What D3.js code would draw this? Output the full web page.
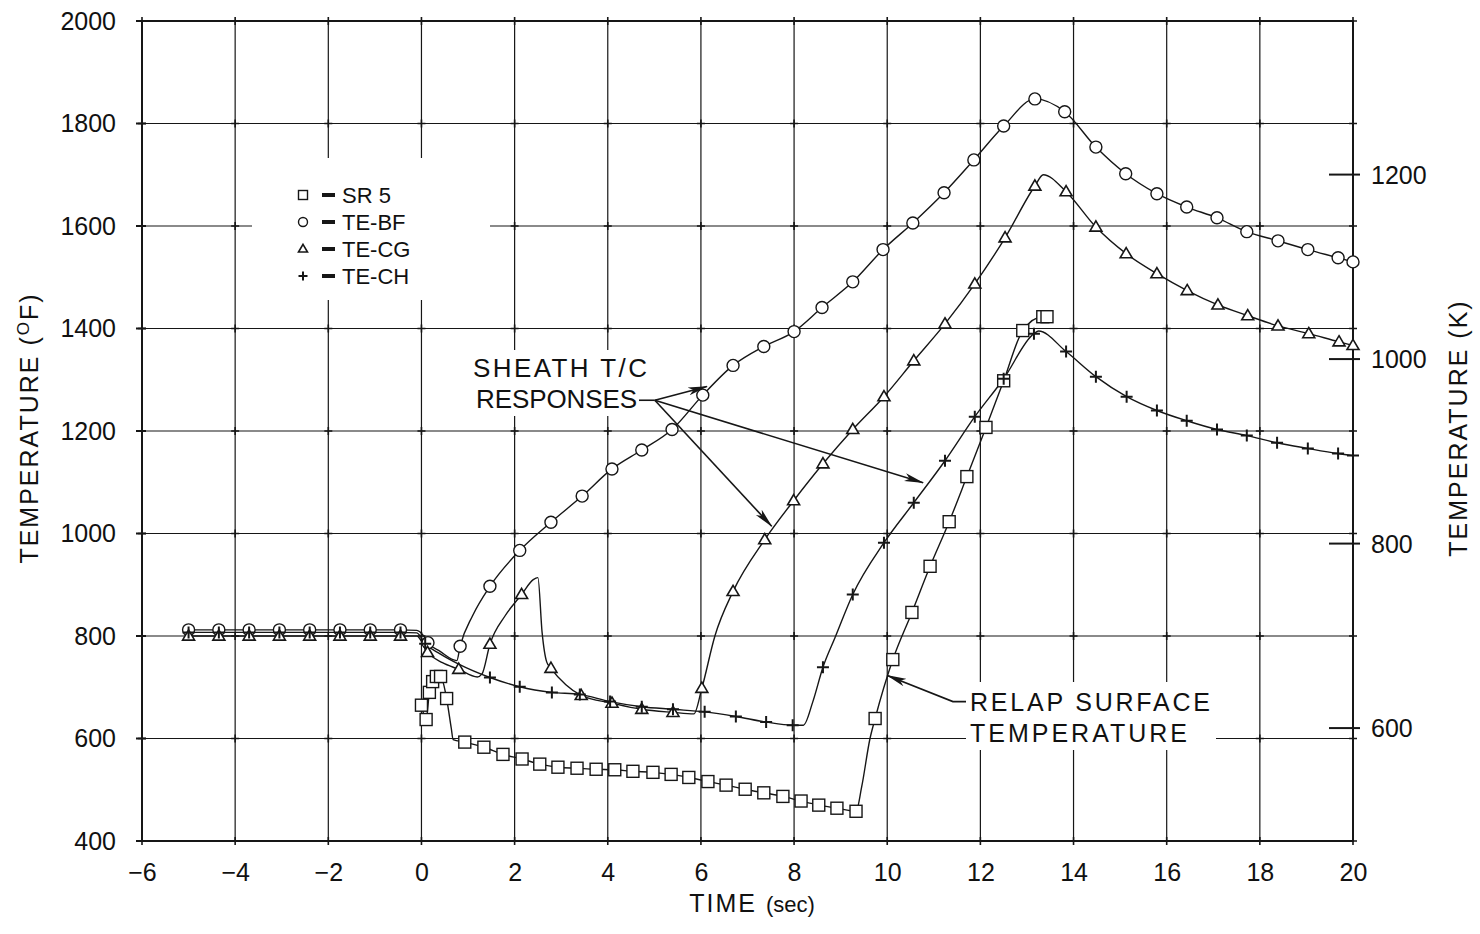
<!DOCTYPE html>
<html>
<head>
<meta charset="utf-8">
<script src="https://cdn.jsdelivr.net/npm/d3@7"></script>
<style>
  body { margin: 0; background: #fff; }
  svg { display: block; }
  text { font-family: "Liberation Sans", Arial, sans-serif; fill: #111; }
</style>
</head>
<body>
<svg id="chart" width="1480" height="934"></svg>
<script>
// ---------------- data ----------------
const timeTicks = [-6, -4, -2, 0, 2, 4, 6, 8, 10, 12, 14, 16, 18, 20];
const tempTicksF = [400, 600, 800, 1000, 1200, 1400, 1600, 1800, 2000];
const tempTicksK = [600, 800, 1000, 1200];
const seriesNames = ["SR 5", "TE-BF", "TE-CG", "TE-CH"];
const seriesSymbols = ["square", "circle", "triangle", "plus"];

// [time (s), temperature (F), marker shown (1/0)]
const sr5 = [
  [0.00,665,1],[0.10,637,1],[0.17,690,1],[0.24,711,1],[0.32,721,1],[0.41,721,1],[0.54,678,1],
  [0.64,620,0],[0.68,598,0],[0.93,593,1],[1.34,583,1],[1.75,569,1],[2.16,560,1],[2.54,550,1],
  [2.93,544,1],[3.34,542,1],[3.75,540,1],[4.15,539,1],[4.54,536,1],[4.97,534,1],[5.36,530,1],
  [5.74,524,1],[6.15,516,1],[6.54,509,1],[6.95,501,1],[7.35,494,1],[7.76,487,1],[8.15,478,1],
  [8.53,470,1],[8.92,464,1],[9.33,458,1],[9.45,505,0],[9.63,600,0],[9.74,639,1],[10.12,754,1],
  [10.53,846,1],[10.92,936,1],[11.33,1023,1],[11.71,1111,1],[12.12,1207,1],[12.50,1298,1],
  [12.91,1396,1],[13.34,1423,1],[13.43,1423,1]
];
const teBF = [
  [-5.00,812,1],[-4.35,812,1],[-3.70,812,1],[-3.05,812,1],[-2.40,812,1],[-1.75,812,1],[-1.10,812,1],
  [-0.45,812,1],[-0.10,811,0],[0.05,800,0],[0.14,787,1],[0.40,770,0],[0.76,752,0],[0.83,780,1],
  [1.10,840,0],[1.47,897,1],[2.11,967,1],[2.78,1022,1],[3.45,1073,1],[4.09,1126,1],[4.73,1163,1],
  [5.38,1203,1],[6.04,1270,1],[6.69,1328,1],[7.35,1365,1],[8.00,1394,1],[8.60,1441,1],[9.26,1491,1],
  [9.91,1554,1],[10.55,1606,1],[11.22,1665,1],[11.86,1729,1],[12.50,1795,1],[13.17,1848,1],
  [13.81,1823,1],[14.48,1754,1],[15.12,1702,1],[15.79,1663,1],[16.43,1637,1],[17.08,1616,1],
  [17.72,1589,1],[18.39,1571,1],[19.03,1554,1],[19.68,1538,1],[20.00,1530,1]
];
const teCG = [
  [-5.00,800,1],[-4.35,800,1],[-3.70,800,1],[-3.05,800,1],[-2.40,800,1],[-1.75,800,1],[-1.10,800,1],
  [-0.45,800,1],[-0.10,800,0],[0.13,768,1],[0.45,748,0],[0.80,735,1],[1.20,720,0],[1.30,726,0],
  [1.47,784,1],[1.80,840,0],[2.15,881,1],[2.40,910,0],[2.50,914,0],[2.59,807,0],[2.69,749,0],
  [2.78,737,1],[3.10,705,0],[3.43,684,1],[4.09,669,1],[4.73,657,1],[5.40,651,1],[5.85,648,0],
  [6.02,698,1],[6.30,800,0],[6.69,887,1],[7.37,988,1],[7.99,1064,1],[8.62,1136,1],[9.26,1203,1],
  [9.93,1267,1],[10.57,1337,1],[11.24,1409,1],[11.88,1487,1],[12.53,1577,1],[13.17,1678,1],
  [13.35,1700,0],[13.84,1667,1],[14.48,1598,1],[15.13,1546,1],[15.79,1507,1],[16.44,1474,1],
  [17.10,1446,1],[17.74,1425,1],[18.39,1405,1],[19.05,1390,1],[19.70,1374,1],[20.00,1367,1]
];
const teCH = [
  [-5.00,807,1],[-4.35,807,1],[-3.70,807,1],[-3.05,807,1],[-2.40,807,1],[-1.75,807,1],[-1.10,807,1],
  [-0.45,807,1],[-0.10,806,0],[0.08,785,1],[0.40,765,0],[0.80,745,0],[1.47,719,1],[2.11,701,1],
  [2.80,690,1],[3.40,686,1],[4.05,672,1],[4.73,662,1],[5.40,657,1],[6.08,652,1],[6.75,643,1],
  [7.40,632,1],[7.97,626,1],[8.20,626,0],[8.40,671,0],[8.62,739,1],[8.88,797,0],[9.26,881,1],
  [9.93,982,1],[10.57,1060,1],[11.24,1142,1],[11.88,1228,1],[12.50,1302,1],[13.15,1390,1],
  [13.25,1395,0],[13.84,1355,1],[14.48,1306,1],[15.14,1267,1],[15.79,1240,1],[16.43,1220,1],
  [17.08,1203,1],[17.72,1191,1],[18.37,1177,1],[19.03,1166,1],[19.68,1156,1],[20.00,1152,1]
];
const seriesData = [sr5, teBF, teCG, teCH];

// annotation anchors in data units
const sheathOrigin = [5.01, 1260];
const sheathTargets = [[6.13, 1287], [7.52, 1014], [10.77, 1099]];
const relapTarget = [10.0, 723];
const relapElbow = [11.41, 672];

// ---------------- drawing ----------------
const svg = d3.select("#chart");
const x = d3.scaleLinear().domain([-6, 20]).range([142, 1353]);
const y = d3.scaleLinear().domain([400, 2000]).range([841, 21]);
const kToF = k => k * 1.8 - 459.67;
const yK = d3.scaleLinear().domain([(400 + 459.67) / 1.8, (2000 + 459.67) / 1.8]).range([841, 21]);

const ink = "#161616";

// defs: arrowhead
svg.append("defs").append("marker")
  .attr("id", "arrow").attr("viewBox", "0 0 20 10").attr("refX", 19).attr("refY", 5)
  .attr("markerWidth", 20).attr("markerHeight", 10).attr("markerUnits", "userSpaceOnUse")
  .attr("orient", "auto")
  .append("path").attr("d", "M0,1 L20,5 L0,9 L5,5 Z").attr("fill", ink);

// grid
const grid = svg.append("g");
grid.selectAll("line.v").data(timeTicks).join("line")
  .attr("x1", d => x(d)).attr("x2", d => x(d)).attr("y1", y(2000)).attr("y2", y(400))
  .attr("stroke", ink).attr("stroke-width", 1.2);
grid.selectAll("line.h").data(tempTicksF).join("line")
  .attr("x1", x(-6)).attr("x2", x(20)).attr("y1", d => y(d)).attr("y2", d => y(d))
  .attr("stroke", ink).attr("stroke-width", 1.2);
// small crosses at intersections
const inter = [];
timeTicks.forEach(t => tempTicksF.forEach(f => inter.push([t, f])));
grid.selectAll("path.cross").data(inter).join("path")
  .attr("d", d => `M${x(d[0]) - 4},${y(d[1])}h8M${x(d[0])},${y(d[1]) - 4}v8`)
  .attr("stroke", ink).attr("stroke-width", 1.6);

// white boxes behind labels (grid is broken there in the original)
const boxes = svg.append("g");
boxes.append("rect").attr("x", 252).attr("y", 158).attr("width", 238).attr("height", 142).attr("fill", "#fff");
boxes.append("rect").attr("x", 468).attr("y", 350).attr("width", 180).attr("height", 66).attr("fill", "#fff");
boxes.append("rect").attr("x", 966).attr("y", 682).attr("width", 250).attr("height", 68).attr("fill", "#fff");

// frame
svg.append("rect").attr("x", x(-6)).attr("y", y(2000)).attr("width", x(20) - x(-6)).attr("height", y(400) - y(2000))
  .attr("fill", "none").attr("stroke", ink).attr("stroke-width", 2);
// left axis little tick marks
svg.append("g").selectAll("line").data(tempTicksF).join("line")
  .attr("x1", x(-6) - 6).attr("x2", x(-6) + 4).attr("y1", d => y(d)).attr("y2", d => y(d))
  .attr("stroke", ink).attr("stroke-width", 2);

// axes labels via d3 axes
const axL = svg.append("g").attr("transform", `translate(${x(-6)},0)`)
  .call(d3.axisLeft(y).tickValues(tempTicksF).tickSize(0).tickPadding(26).tickFormat(d3.format("d")));
axL.select(".domain").remove();
axL.selectAll("text").attr("font-size", 25).attr("font-family", "Liberation Sans, Arial, sans-serif").attr("fill", ink);

const axB = svg.append("g").attr("transform", `translate(0,${y(400)})`)
  .call(d3.axisBottom(x).tickValues(timeTicks).tickSize(0).tickPadding(22));
axB.select(".domain").remove();
axB.selectAll("text").attr("font-size", 25).attr("font-family", "Liberation Sans, Arial, sans-serif").attr("fill", ink);

// right axis in Kelvin
const axR = svg.append("g");
axR.selectAll("line").data(tempTicksK).join("line")
  .attr("x1", x(20) - 24).attr("x2", x(20) + 7).attr("y1", d => y(kToF(d))).attr("y2", d => y(kToF(d)))
  .attr("stroke", ink).attr("stroke-width", 2);
axR.selectAll("text").data(tempTicksK).join("text")
  .attr("x", x(20) + 18).attr("y", d => yK(d)).attr("dy", "0.36em")
  .attr("font-size", 25).text(d => d);

// axis titles
svg.append("text").attr("transform", "translate(38,428) rotate(-90)").attr("text-anchor", "middle")
  .attr("font-size", 25).attr("letter-spacing", 2)
  .call(t => {
    t.append("tspan").text("TEMPERATURE (");
    t.append("tspan").attr("font-size", 17).attr("dy", -9).text("O");
    t.append("tspan").attr("dy", 9).text("F)");
  });
svg.append("text").attr("transform", "translate(1467,428) rotate(-90)").attr("text-anchor", "middle")
  .attr("font-size", 25).attr("letter-spacing", 2).text("TEMPERATURE (K)");
svg.append("text").attr("x", 752).attr("y", 912).attr("text-anchor", "middle")
  .call(t => {
    t.append("tspan").attr("font-size", 25).attr("letter-spacing", 2).text("TIME ");
    t.append("tspan").attr("font-size", 22).text("(sec)");
  });

// series lines
const line = d3.line().x(d => x(d[0])).y(d => y(d[1])).curve(d3.curveMonotoneX);
const gl = svg.append("g");
seriesData.forEach(s => {
  gl.append("path").attr("d", line(s)).attr("fill", "none").attr("stroke", ink).attr("stroke-width", 1.4);
});

// marker symbol drawer
function drawSymbol(g, type, cx, cy, sz) {
  if (type === "square") {
    g.append("rect").attr("x", cx - sz / 2).attr("y", cy - sz / 2).attr("width", sz).attr("height", sz)
      .attr("fill", "#fff").attr("stroke", ink).attr("stroke-width", 1.4);
  } else if (type === "circle") {
    g.append("circle").attr("cx", cx).attr("cy", cy).attr("r", sz / 2)
      .attr("fill", "#fff").attr("stroke", ink).attr("stroke-width", 1.4);
  } else if (type === "triangle") {
    const h = sz * 0.85;
    g.append("path").attr("d", `M${cx},${cy - h * 0.6}L${cx + sz / 2},${cy + h * 0.4}L${cx - sz / 2},${cy + h * 0.4}Z`)
      .attr("fill", "#fff").attr("stroke", ink).attr("stroke-width", 1.6);
  } else {
    g.append("path").attr("d", `M${cx - sz / 2},${cy}h${sz}M${cx},${cy - sz / 2}v${sz}`)
      .attr("fill", "none").attr("stroke", ink).attr("stroke-width", 2);
  }
}
const gm = svg.append("g");
seriesData.forEach((s, i) => {
  s.filter(d => d[2]).forEach(d => drawSymbol(gm, seriesSymbols[i], x(d[0]), y(d[1]), 12));
});

// legend
const lg = svg.append("g");
seriesNames.forEach((name, i) => {
  const cy = 195 + i * 27;
  drawSymbol(lg, seriesSymbols[i], 303, cy, 9);
  lg.append("rect").attr("x", 322).attr("y", cy - 2).attr("width", 13).attr("height", 4).attr("fill", ink);
  lg.append("text").attr("x", 342).attr("y", cy + 8).attr("font-size", 22)
    .attr("font-family", "Liberation Mono, DejaVu Sans Mono, monospace").text(name);
});

// annotations
const ann = svg.append("g");
ann.append("text").attr("x", 473).attr("y", 377).attr("font-size", 26)
  .attr("textLength", 174).attr("lengthAdjust", "spacing").text("SHEATH T/C");
ann.append("text").attr("x", 476).attr("y", 408).attr("font-size", 26)
  .attr("textLength", 161).attr("lengthAdjust", "spacing").text("RESPONSES");
ann.append("line").attr("x1", 639).attr("y1", y(sheathOrigin[1])).attr("x2", x(sheathOrigin[0])).attr("y2", y(sheathOrigin[1]))
  .attr("stroke", ink).attr("stroke-width", 1.6);
sheathTargets.forEach(t => {
  ann.append("line").attr("x1", x(sheathOrigin[0])).attr("y1", y(sheathOrigin[1]))
    .attr("x2", x(t[0])).attr("y2", y(t[1]))
    .attr("stroke", ink).attr("stroke-width", 1.6).attr("marker-end", "url(#arrow)");
});
ann.append("text").attr("x", 970).attr("y", 711).attr("font-size", 25)
  .attr("textLength", 240).attr("lengthAdjust", "spacing").text("RELAP SURFACE");
ann.append("text").attr("x", 970).attr("y", 742).attr("font-size", 25)
  .attr("textLength", 217).attr("lengthAdjust", "spacing").text("TEMPERATURE");
ann.append("path")
  .attr("d", `M966,${y(relapElbow[1])}L${x(relapElbow[0])},${y(relapElbow[1])}L${x(relapTarget[0])},${y(relapTarget[1])}`)
  .attr("fill", "none").attr("stroke", ink).attr("stroke-width", 1.6).attr("marker-end", "url(#arrow)");
</script>
</body>
</html>
